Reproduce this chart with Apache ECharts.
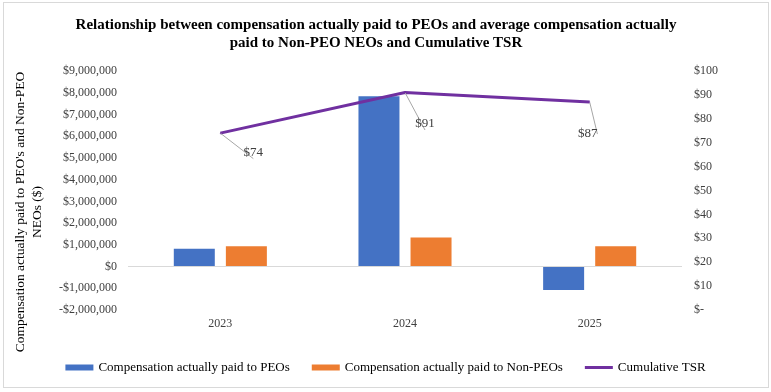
<!DOCTYPE html>
<html>
<head>
<meta charset="utf-8">
<script src="https://cdn.jsdelivr.net/npm/echarts@6/dist/echarts.min.js"></script>
<style>
html,body{margin:0;padding:0;background:#fff;}
#frame{position:absolute;left:3px;top:2px;width:764px;height:384px;border:1px solid #d9d9d9;}
#chart{position:absolute;left:0;top:0;width:771px;height:392px;}
</style>
</head>
<body>
<div id="frame"></div>
<div id="chart"></div>
<script>
const categories = ['2023', '2024', '2025'];
const peoCAP = [820000, 7840000, -1080000];
const nonPeoCAP = [930000, 1340000, 930000];
const cumulativeTSR = [74, 91, 87];
const tsrLabelOffsets = [[33, 19], [20, 31], [-2, 32]];

const FONT = '"Liberation Serif", "Times New Roman", serif';

function money(v) {
  const s = Math.abs(v).toLocaleString('en-US');
  return (v < 0 ? '-$' : '$') + s;
}

const chart = echarts.init(document.getElementById('chart'));
chart.setOption({
  backgroundColor: 'transparent',
  animation: false,
  textStyle: { fontFamily: FONT },
  title: {
    text: 'Relationship between compensation actually paid to PEOs and average compensation actually\npaid to Non-PEO NEOs and Cumulative TSR',
    left: 371, top: 11, textAlign: 'center',
    textStyle: { fontFamily: FONT, fontSize: 15, fontWeight: 'bold', color: '#000', lineHeight: 18 }
  },
  legend: {
    bottom: 13, left: 'center',
    itemGap: 22, itemWidth: 28, itemHeight: 6,
    textStyle: { fontFamily: FONT, fontSize: 13, color: '#000' },
    data: [
      { name: 'Compensation actually paid to PEOs', icon: 'rect' },
      { name: 'Compensation actually paid to Non-PEOs', icon: 'rect' },
      { name: 'Cumulative TSR', icon: 'path://M0 0H28V3H0Z', itemStyle: { color: '#7030a0', opacity: 1 } }
    ]
  },
  graphic: [{
    type: 'text', x: 29, y: 212, rotation: Math.PI / 2,
    style: {
      text: "Compensation actually paid to PEO's and Non-PEO\nNEOs ($)",
      align: 'center', verticalAlign: 'middle',
      fontFamily: FONT, fontSize: 13.5, fill: '#000', lineHeight: 17
    }
  }],
  grid: { left: 128, right: 89, top: 71, bottom: 82 },
  xAxis: {
    type: 'category', data: categories,
    axisLine: { show: false, onZero: false }, axisTick: { show: false },
    axisLabel: { margin: 8, fontSize: 12, color: '#404040', fontFamily: FONT }
  },
  yAxis: [{
    type: 'value', min: -2000000, max: 9000000, interval: 1000000,
    splitLine: { show: false }, axisLine: { show: false }, axisTick: { show: false },
    axisLabel: { margin: 11, fontSize: 12, color: '#404040', fontFamily: FONT, formatter: money }
  }, {
    type: 'value', min: 0, max: 100, interval: 10,
    splitLine: { show: false }, axisLine: { show: false }, axisTick: { show: false },
    axisLabel: { margin: 12, fontSize: 12, color: '#404040', fontFamily: FONT,
      formatter: v => v === 0 ? '$-' : '$' + v }
  }],
  series: [{
    name: 'Compensation actually paid to PEOs', type: 'bar', data: peoCAP,
    barWidth: 41, barGap: '27%', itemStyle: { color: '#4472c4' },
    markLine: {
      silent: true, symbol: 'none', label: { show: false },
      lineStyle: { color: '#d9d9d9', width: 1, type: 'solid' },
      data: [{ yAxis: 0 }]
    }
  }, {
    name: 'Compensation actually paid to Non-PEOs', type: 'bar', data: nonPeoCAP,
    barWidth: 41, itemStyle: { color: '#ed7d31' }
  }, {
    name: 'Cumulative TSR', type: 'line', yAxisIndex: 1, z: 5,
    symbol: 'circle', symbolSize: 1, showSymbol: true,
    lineStyle: { color: '#7030a0', width: 3 }, itemStyle: { color: '#7030a0' },
    data: cumulativeTSR.map((v, i) => ({
      value: v,
      label: { offset: tsrLabelOffsets[i] }
    })),
    label: {
      show: true, position: 'inside', fontSize: 13, color: '#404040', fontFamily: FONT,
      formatter: p => '$' + p.value
    },
    labelLine: { show: true, lineStyle: { color: '#a6a6a6', width: 1 } }
  }]
});
</script>
</body>
</html>
